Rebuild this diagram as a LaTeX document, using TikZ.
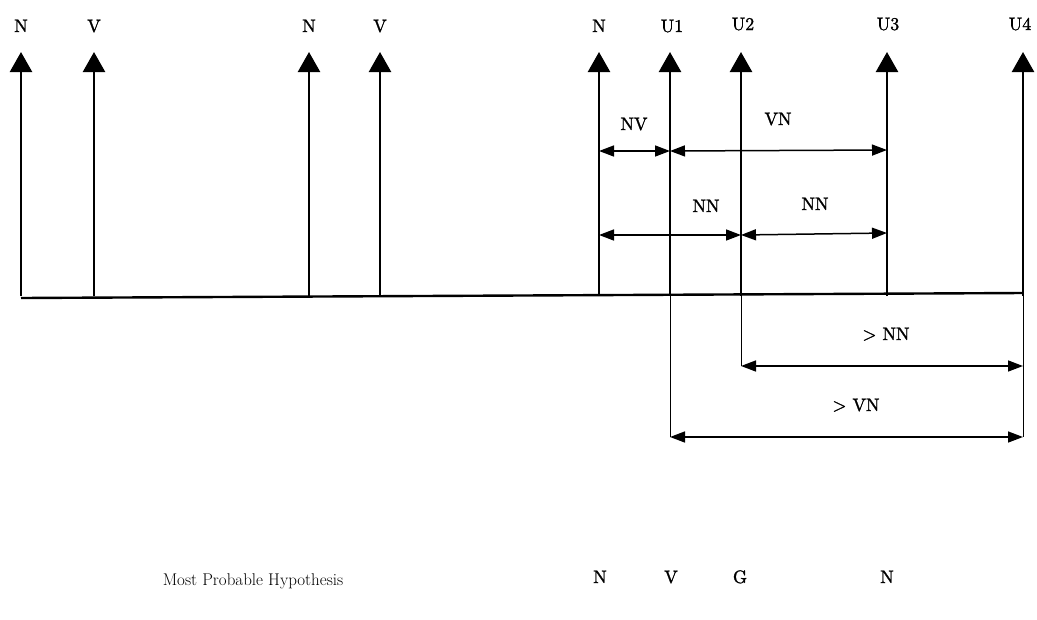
\documentclass[tikz,border=0pt]{standalone}
\usepackage{fontspec}
\newfontface\heavy{lmroman10-regular.otf}[FakeBold=1.3]
\usetikzlibrary{arrows.meta}
\begin{document}
\begin{tikzpicture}[x=1pt,y=-1pt,
  lbl/.style={font=\fontsize{18}{20}\selectfont\heavy, inner sep=0pt, anchor=base},
  btm/.style={font=\fontsize{17}{19}\selectfont, inner sep=0pt, anchor=base},
  upar/.style={line width=2.4pt,-{Triangle[width=22pt,length=20pt]}},
  dimar/.style={line width=1.5pt,{Triangle[width=11pt,length=15pt]}-{Triangle[width=11pt,length=15pt]}},
  ext/.style={line width=0.8pt},
  base/.style={line width=2.4pt}]
\useasboundingbox (0,0) rectangle (1037,619);
% coordinates
\foreach \n/\x in {a/21,b/94,c/309,d/380,e/599,f/670,g/741,h/887,i/1023}{
  \coordinate (\n0) at (\x,296);
  \coordinate (\n1) at (\x,52);
}
\coordinate (L) at (21,298);
\coordinate (R) at (1023,293);
\draw[base] (L) -- (R);
\foreach \n in {a,b,c,d,e,f,g,h,i}{\draw[upar] (\n0) -- (\n1);}
% top labels
\node[lbl] (la) at (21,32) {N};
\node[lbl] (lb) at (94,32) {V};
\node[lbl] (lc) at (309,32) {N};
\node[lbl] (ld) at (380,32) {V};
\node[lbl] (le) at (599,32) {N};
\node[lbl] (lf) at (672,32) {U1};
\node[lbl] (lg) at (743,30) {U2};
\node[lbl] (lh) at (888,30) {U3};
\node[lbl] (li) at (1020,30) {U4};
% extensions
\coordinate (f2) at (670,437);
\coordinate (g2) at (741,366);
\coordinate (i2) at (1023,437);
\draw[ext] (f0) -- (f2);
\draw[ext] (g0) -- (g2);
\draw[ext] (i0) -- (i2);
% dimension arrows
\coordinate (e3) at (599,151);
\coordinate (f3) at (670,151);
\coordinate (h3) at (887,150);
\coordinate (e4) at (599,235);
\coordinate (g4) at (741,235);
\coordinate (h4) at (887,233);
\coordinate (g5) at (741,366);
\coordinate (i5) at (1023,366);
\coordinate (f6) at (670,437);
\coordinate (i6) at (1023,437);
\draw[dimar] (e3) -- (f3);
\draw[dimar] (f3) -- (h3);
\draw[dimar] (e4) -- (g4);
\draw[dimar] (g4) -- (h4);
\draw[dimar] (g5) -- (i5);
\draw[dimar] (f6) -- (i6);
\node[lbl] (nv) at (634,130) {NV};
\node[lbl] (vn) at (778,125) {VN};
\node[lbl] (nn1) at (706,212) {NN};
\node[lbl] (nn2) at (815,210) {NN};
\node[lbl] (gnn) at (886,340) {> NN};
\node[lbl] (gvn) at (856,411) {> VN};
% bottom
\node[btm] (mph) at (253,585) {Most Probable Hypothesis};
\node[lbl] (hn) at (600,583) {N};
\node[lbl] (hv) at (671,583) {V};
\node[lbl] (hg) at (740,583) {G};
\node[lbl] (hn2) at (887,583) {N};
\end{tikzpicture}
\end{document}
